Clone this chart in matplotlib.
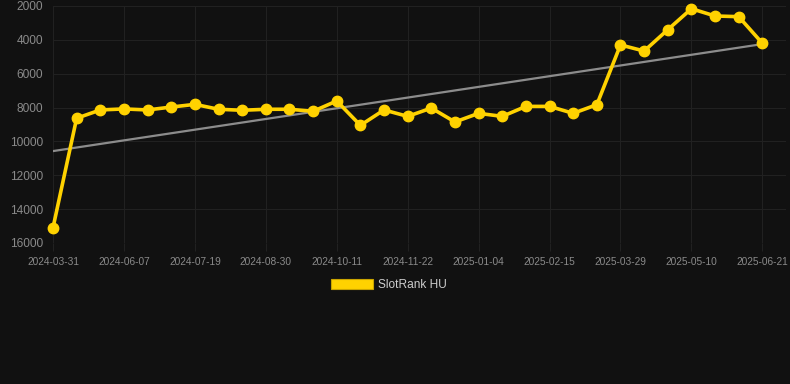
import matplotlib
matplotlib.use("Agg")
import matplotlib.pyplot as plt
import numpy as np

plt.rcParams['font.family'] = ['Liberation Sans', 'DejaVu Sans']

series_name = "SlotRank HU"
rank_values = [15100, 8630, 8140, 8080, 8140, 7970, 7810, 8100, 8160, 8100,
               8100, 8220, 7610, 9050, 8140, 8520, 8030, 8850, 8340, 8520,
               7930, 7930, 8340, 7830, 4300, 4660, 3400, 2160, 2590, 2630, 4200]
trend_values = [10570, 4250]  # trend line at first and last point
tick_labels = ["2024-03-31", "2024-06-07", "2024-07-19", "2024-08-30", "2024-10-11",
               "2024-11-22", "2025-01-04", "2025-02-15", "2025-03-29", "2025-05-10",
               "2025-06-21"]
y_ticks = [2000, 4000, 6000, 8000, 10000, 12000, 14000, 16000]

bg = "#111111"
grid_c = "#212121"
text_c = "#8a8a8a"
yellow = "#FFD200"

fig = plt.figure(figsize=(7.9, 3.84), dpi=100, facecolor=bg)
ax = fig.add_axes([53/790, (384-243)/384, (786-53)/790, (243-6)/384], facecolor=bg)

x = np.arange(len(rank_values))
ax.plot([x[0], x[-1]], trend_values, color="#8c8c8c", lw=1.6, zorder=2)

ax.plot(x, rank_values, color=yellow, lw=2.6, marker='o', ms=7.5,
        markerfacecolor=yellow, markeredgecolor=yellow, zorder=3, clip_on=False,
        label=series_name)

ax.set_xlim(0, 31)
ax.set_ylim(16000, 2000)
ax.set_yticks(y_ticks)
ax.set_yticklabels([str(v) for v in y_ticks])
tick_pos = x[::3]
ax.set_xticks(tick_pos)
ax.set_xticklabels(tick_labels)

for s in ax.spines.values():
    s.set_visible(False)
ax.grid(True, color=grid_c, lw=0.8)
ax.set_axisbelow(True)
ax.tick_params(axis='y', length=0, pad=7, labelsize=8.6, labelcolor=text_c)
ax.tick_params(axis='x', length=6, color=grid_c, width=0.8, pad=4, labelsize=7.3, labelcolor=text_c)

leg = fig.legend(handles=[plt.Rectangle((0, 0), 1, 1, facecolor=yellow, edgecolor="#c9a400", lw=0.8)],
                 labels=[series_name], loc='center', bbox_to_anchor=(389/790, 1 - 285/384),
                 frameon=False, handlelength=3.5, handleheight=1.0, handletextpad=0.4,
                 fontsize=8.6, labelcolor="#cccccc")

fig.savefig("out.png", dpi=100, facecolor=bg)
